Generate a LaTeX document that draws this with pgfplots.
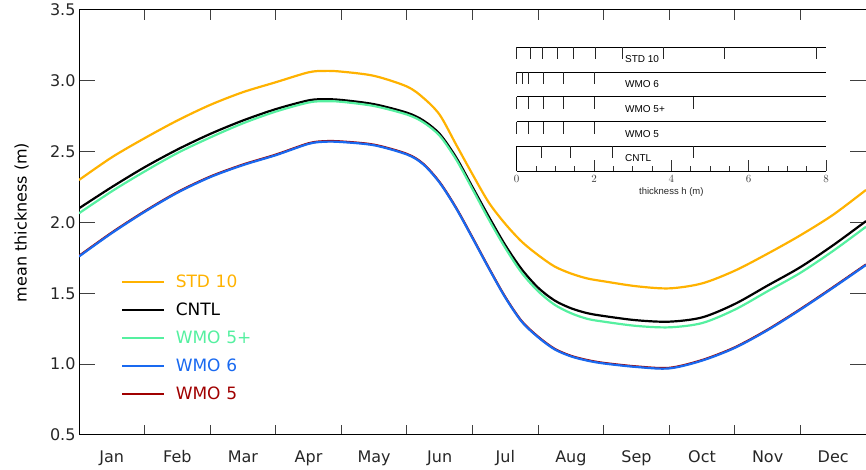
\documentclass[border=0pt]{standalone}
\usepackage{fontspec}
\setmainfont{DejaVu Sans}
\newfontfamily\insetfont{Liberation Sans}
\usepackage{pgfplots}
\pgfplotsset{compat=1.18}
\definecolor{cstd}{RGB}{255,178,0}
\definecolor{cwmofp}{RGB}{85,240,160}
\definecolor{cwmosix}{RGB}{25,105,240}
\definecolor{cwmofive}{RGB}{160,0,0}
\begin{document}
\begin{tikzpicture}[x=1pt,y=1pt]
\path[use as bounding box] (0,0) rectangle (866,470);
\begin{axis}[
  at={(79pt,35pt)}, anchor=south west, scale only axis,
  width=787pt, height=425pt,
  xmin=0, xmax=12, ymin=0.5, ymax=3.5,
  xtick={0.5,1.5,...,11.5},
  xticklabels={Jan,Feb,Mar,Apr,May,Jun,Jul,Aug,Sep,Oct,Nov,Dec},
  minor xtick={1,...,11},
  ytick={0.5,1.0,...,3.5},
  yticklabel style={/pgf/number format/.cd, fixed, fixed zerofill, precision=1},
  /pgf/number format/assume math mode=true,
  tick align=inside, tick pos=both,
  major tick length=16pt, minor tick length=10pt,
  major x tick style={draw=none},
  tick style={line width=1pt, black!75},
  axis line style={line width=1pt, black},
  tick label style={font=\fontsize{16}{18}\selectfont, text=black!85},
  xticklabel style={yshift=-12pt},
  ylabel={mean thickness (m)},
  ylabel style={font=\fontsize{16}{18}\selectfont, at={(axis description cs:-0.073,0.5)}, anchor=center, rotate=0},
  legend style={at={(axis description cs:0.0495,0.386)}, anchor=north west, draw=none, fill=none,
    font=\fontsize{17}{19}\selectfont, row sep=11pt, legend cell align=left,
    nodes={inner sep=1.5pt}},
  legend image code/.code={\draw[#1, line width=2pt] (0pt,0pt) -- (42pt,0pt); \path (51pt,0pt);},
]
% WMO 5 (drawn underneath WMO 6)
\addplot[cwmofive, line width=2.2pt, smooth, forget plot] table {
x y
0 1.764
0.5 1.929
1.0 2.079
1.5 2.214
2.0 2.324
2.5 2.409
3.0 2.479
3.5 2.559
3.75 2.574
4.0 2.572
4.5 2.549
5.0 2.484
5.25 2.414
5.5 2.284
5.75 2.104
6.0 1.894
6.25 1.679
6.5 1.474
6.75 1.304
7.0 1.194
7.25 1.109
7.5 1.059
7.75 1.029
8.0 1.009
8.5 0.984
9.0 0.974
9.5 1.029
10.0 1.119
10.5 1.244
11.0 1.389
11.5 1.544
12.0 1.704
};
\addplot[cstd, line width=2.2pt, smooth] table {
x y
0 2.30
0.5 2.46
1.0 2.595
1.5 2.72
2.0 2.83
2.5 2.92
3.0 2.99
3.5 3.06
3.75 3.07
4.0 3.065
4.5 3.035
5.0 2.96
5.25 2.88
5.5 2.76
5.75 2.55
6.0 2.34
6.25 2.14
6.5 1.99
6.75 1.865
7.0 1.77
7.25 1.69
7.5 1.64
7.75 1.605
8.0 1.585
8.5 1.55
9.0 1.535
9.5 1.57
10.0 1.66
10.5 1.78
11.0 1.91
11.5 2.055
12.0 2.23
};
\addlegendentry{\textcolor{cstd}{STD\,\,10}}
\addplot[black, line width=2.2pt, smooth] table {
x y
0 2.10
0.5 2.25
1.0 2.39
1.5 2.515
2.0 2.625
2.5 2.72
3.0 2.80
3.5 2.862
3.75 2.87
4.0 2.865
4.5 2.835
5.0 2.775
5.25 2.72
5.5 2.625
5.75 2.46
6.0 2.25
6.25 2.04
6.5 1.84
6.75 1.67
7.0 1.54
7.25 1.45
7.5 1.395
7.75 1.36
8.0 1.34
8.5 1.31
9.0 1.30
9.5 1.33
10.0 1.425
10.5 1.555
11.0 1.685
11.5 1.84
12.0 2.01
};
\addlegendentry{\textcolor{black}{CNTL}}
\addplot[cwmofp, line width=2.2pt, smooth] table {
x y
0 2.065
0.5 2.22
1.0 2.36
1.5 2.49
2.0 2.60
2.5 2.70
3.0 2.783
3.5 2.847
3.75 2.856
4.0 2.852
4.5 2.822
5.0 2.762
5.25 2.707
5.5 2.612
5.75 2.445
6.0 2.235
6.25 2.02
6.5 1.82
6.75 1.645
7.0 1.515
7.25 1.42
7.5 1.36
7.75 1.32
8.0 1.30
8.5 1.27
9.0 1.26
9.5 1.29
10.0 1.385
10.5 1.515
11.0 1.645
11.5 1.80
12.0 1.97
};
\addlegendentry{\textcolor{cwmofp}{WMO\,\,5+}}
\addplot[cwmosix, line width=2.2pt, smooth] table {
x y
0 1.76
0.5 1.925
1.0 2.075
1.5 2.21
2.0 2.32
2.5 2.405
3.0 2.475
3.5 2.555
3.75 2.57
4.0 2.568
4.5 2.545
5.0 2.48
5.25 2.41
5.5 2.28
5.75 2.10
6.0 1.89
6.25 1.675
6.5 1.47
6.75 1.30
7.0 1.19
7.25 1.105
7.5 1.055
7.75 1.025
8.0 1.005
8.5 0.98
9.0 0.97
9.5 1.025
10.0 1.115
10.5 1.24
11.0 1.385
11.5 1.54
12.0 1.70
};
\addlegendentry{\textcolor{cwmosix}{WMO\,\,6}}
\addlegendimage{cwmofive}
\addlegendentry{\textcolor{cwmofive}{WMO\,\,5}}
\end{axis}
% inset: category boundaries
\begin{axis}[
  at={(516.7pt,299pt)}, anchor=south west, scale only axis,
  width=309.3pt, height=123.7pt,
  xmin=0, xmax=8, ymin=0, ymax=5,
  axis x line*=bottom, axis y line=none,
  axis line style={-, line width=0.9pt, black},
  xtick={0,2,4,6,8}, minor x tick num=3,
  xtick align=inside, xtick pos=bottom,
  major tick length=11pt, minor tick length=5pt,
  tick style={line width=0.9pt, black!80},
  xticklabel style={font=\insetfont\fontsize{10.5}{12}\selectfont, text=black!75, yshift=-1pt},
  xlabel={thickness h (m)},
  xlabel style={font=\insetfont\fontsize{9.5}{11}\selectfont, text=black!85, at={(axis description cs:0.5,0)}, anchor=center, yshift=-21.5pt},
  clip=false,
]
\addplot[black, line width=0.9pt] coordinates {(0,5) (8,5)};
\addplot[black, line width=0.9pt] coordinates {(0,4) (8,4)};
\addplot[black, line width=0.9pt] coordinates {(0,3) (8,3)};
\addplot[black, line width=0.9pt] coordinates {(0,2) (8,2)};
\addplot[black, line width=0.9pt] coordinates {(0,1) (8,1)};
\addplot[black, line width=0.9pt] coordinates {(0,1) (0,0)};
\addplot[black!85, line width=0.9pt, quiver={u=0, v=-0.485}, -] coordinates {
(0,5) (0.35,5) (0.67,5) (1.05,5) (1.47,5) (2.03,5) (2.74,5) (3.79,5) (5.37,5) (7.74,5)};
\addplot[black!85, line width=0.9pt, quiver={u=0, v=-0.485}, -] coordinates {
(0,4) (0.15,4) (0.3,4) (0.7,4) (1.2,4) (2.0,4)};
\addplot[black!85, line width=0.9pt, quiver={u=0, v=-0.485}, -] coordinates {
(0,3) (0.3,3) (0.7,3) (1.2,3) (2.0,3) (4.57,3)};
\addplot[black!85, line width=0.9pt, quiver={u=0, v=-0.485}, -] coordinates {
(0,2) (0.3,2) (0.7,2) (1.2,2) (2.0,2)};
\addplot[black!85, line width=0.9pt, quiver={u=0, v=-0.485}, -] coordinates {
(0.645,1) (1.39,1) (2.47,1) (4.57,1)};
\node[anchor=west, font=\insetfont\fontsize{10}{12}\selectfont, inner sep=0pt] at (axis cs:2.8,4.51) {STD 10};
\node[anchor=west, font=\insetfont\fontsize{10}{12}\selectfont, inner sep=0pt] at (axis cs:2.8,3.51) {WMO 6};
\node[anchor=west, font=\insetfont\fontsize{10}{12}\selectfont, inner sep=0pt] at (axis cs:2.8,2.51) {WMO 5+};
\node[anchor=west, font=\insetfont\fontsize{10}{12}\selectfont, inner sep=0pt] at (axis cs:2.8,1.51) {WMO 5};
\node[anchor=west, font=\insetfont\fontsize{10}{12}\selectfont, inner sep=0pt] at (axis cs:2.8,0.51) {CNTL};
\end{axis}
\end{tikzpicture}
\end{document}
